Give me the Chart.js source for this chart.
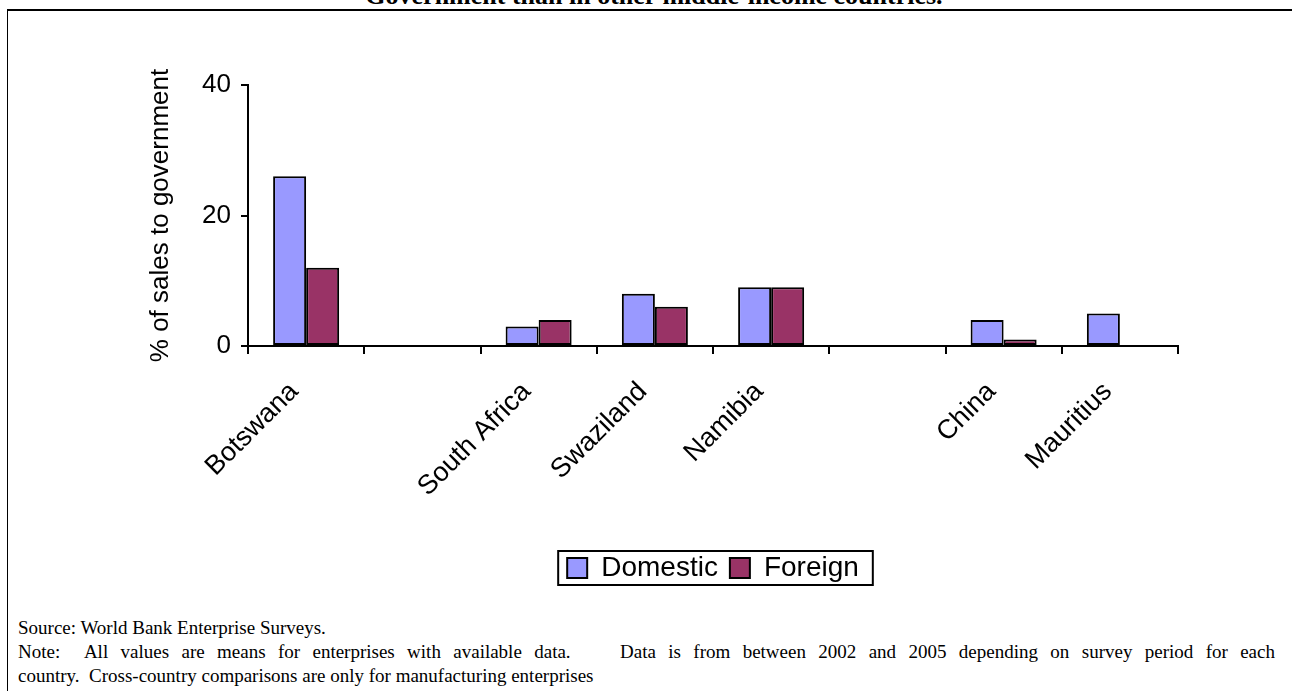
<!DOCTYPE html>
<html>
<head>
<meta charset="utf-8">
<script src="https://cdn.jsdelivr.net/npm/chart.js@4.4.1/dist/chart.umd.min.js"></script>
<style>
  html, body { margin: 0; padding: 0; background: #fff; width: 1292px; height: 691px; overflow: hidden; }
  #frame { position: absolute; left: 7px; top: 9px; width: 1300px; height: 700px;
           border-top: 2px solid #000; border-left: 1px solid #000; }
  #heading { position: absolute; left: 0; top: -17px; width: 1308px; text-align: center;
             font: bold 26px 'Liberation Serif', 'Times New Roman', serif; line-height: 26px;
             white-space: nowrap; color: #000; }
  #wrap { position: absolute; left: 0; top: 0; width: 1292px; height: 600px; }
  #notes { position: absolute; left: 18px; top: 616px; width: 1257px;
           font: 19px 'Liberation Serif', 'Times New Roman', serif; line-height: 24px; color: #000; }
  #notes div { white-space: pre; }
</style>
</head>
<body>
<div id="frame"></div>
<div id="heading">Government than in other middle-income countries.</div>
<div id="wrap"><canvas id="chart"></canvas></div>
<div id="notes">
  <div>Source: World Bank Enterprise Surveys.</div>
  <div><span id="noteLine">Note:  All values are means for enterprises with available data.    Data is from between 2002 and 2005 depending on survey period for each</span></div>
  <div>country.  Cross-country comparisons are only for manufacturing enterprises</div>
</div>
<script>
// Share of sales to government (%), by country and ownership
const countries = ['Botswana', '', 'South Africa', 'Swaziland', 'Namibia', '', 'China', 'Mauritius'];
const domestic  = [26, null, 3, 8, 9, null, 4, 5];
const foreign   = [12, null, 4, 6, 9, null, 1, null];
const yTicks    = [0, 20, 40];

// Justify the long note line across the full text width
(function () {
  const line = document.getElementById('noteLine');
  const spaces = (line.textContent.match(/ /g) || []).length;
  const natural = line.getBoundingClientRect().width;
  line.style.wordSpacing = ((1257 - natural) / spaces) + 'px';
})();

const FONT = "'Liberation Sans', Arial, sans-serif";
const axisFont = { family: FONT, size: 26 };

// Frame drawn round the legend entries
const legendFrame = {
  id: 'legendFrame',
  afterDraw(chart) {
    const boxes = chart.legend && chart.legend.legendHitBoxes;
    if (!boxes || !boxes.length) return;
    const left = Math.min(...boxes.map(b => b.left)) - 9;
    const right = Math.max(...boxes.map(b => b.left + b.width)) + 14;
    const top = boxes[0].top - 3;
    const bottom = boxes[0].top + boxes[0].height + 3;
    const ctx = chart.ctx;
    ctx.save();
    ctx.strokeStyle = '#000';
    ctx.lineWidth = 2;
    ctx.strokeRect(left, top, right - left, bottom - top);
    ctx.restore();
  }
};

new Chart(document.getElementById('chart'), {
  type: 'bar',
  data: {
    labels: countries,
    datasets: [
      { label: 'Domestic', data: domestic, backgroundColor: '#9999FF', borderColor: '#000',
        borderWidth: 2, borderSkipped: false, categoryPercentage: 0.568, barPercentage: 1 },
      { label: 'Foreign', data: foreign, backgroundColor: '#993366', borderColor: '#000',
        borderWidth: 2, borderSkipped: false, categoryPercentage: 0.568, barPercentage: 1 }
    ]
  },
  options: {
    responsive: true,
    maintainAspectRatio: false,
    animation: false,
    layout: { padding: { left: 145, right: 114, top: 85, bottom: 8 } },
    plugins: {
      legend: {
        position: 'bottom',
        fullSize: false,
        labels: { font: { family: FONT, size: 28 }, color: '#000', boxWidth: 20, boxHeight: 20, padding: 12 }
      },
      tooltip: { enabled: false }
    },
    scales: {
      x: {
        grid: { drawOnChartArea: false, drawTicks: true, tickLength: 8, color: '#000', lineWidth: 2 },
        border: { color: '#000', width: 2 },
        ticks: { font: { family: FONT, size: 27 }, color: '#000', maxRotation: 45, minRotation: 45,
                 autoSkip: false, padding: 22, labelOffset: -12 },
        afterFit(scale) { scale.height = 196; }
      },
      y: {
        min: 0,
        max: 40,
        afterBuildTicks(scale) { scale.ticks = yTicks.map(v => ({ value: v })); },
        grid: { drawOnChartArea: false, drawTicks: true, tickLength: 7, color: '#000', lineWidth: 2 },
        border: { color: '#000', width: 2 },
        ticks: { font: axisFont, color: '#000', padding: 10 },
        title: { display: true, text: '% of sales to government', font: axisFont, color: '#000', padding: 0 },
        afterFit(scale) { scale.width = 103; }
      }
    }
  },
  plugins: [legendFrame]
});
</script>
</body>
</html>
